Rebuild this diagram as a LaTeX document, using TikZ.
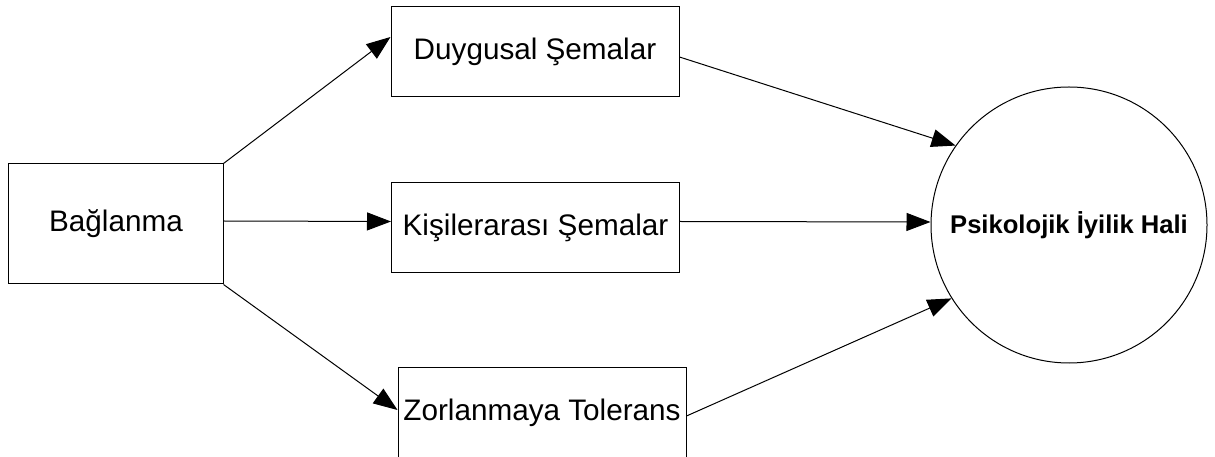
\documentclass[tikz,border=0pt]{standalone}
\usepackage{fontspec}
\setmainfont{Liberation Sans}
\usetikzlibrary{arrows.meta}
\begin{document}
\begin{tikzpicture}[x=1bp,y=-1bp,
  box/.style={draw=black,line width=1bp,rectangle,inner sep=0pt,
    minimum width=288bp,minimum height=90bp,
    font=\fontsize{29.8}{34}\selectfont},
  conn/.style={draw=black,line width=1bp,-{Triangle[length=24bp,width=18bp]}}]
\useasboundingbox[fill=white] (0,0) rectangle (1215,457);
\node[box,minimum width=214bp,minimum height=120bp] (bag) at (116,224) {Bağlanma};
\node[box] (duy) at (535,52) {Duygusal Şemalar};
\node[box] (kis) at (535.5,227.5) {Kişilerarası Şemalar};
\node[box] (zor) at (542,413) {Zorlanmaya Tolerans};
\node[draw=black,line width=1bp,circle,minimum size=276bp,inner sep=0pt,
  font=\fontsize{25.7}{30}\selectfont\bfseries] (circ) at (1069,225) {Psikolojik İyilik Hali};
\draw[conn] (bag.north east) -- ([yshift=15bp]duy.west);
\draw[conn] ([yshift=3bp]bag.east) -- ([yshift=6bp]kis.west);
\draw[conn] (bag.south east) -- ([yshift=3bp]zor.west);
\draw[conn] ([yshift=-5bp]duy.east) -- (circ.145);
\draw[conn] ([yshift=6bp]kis.east) -- ([yshift=3bp]circ.west);
\draw[conn] ([yshift=-3bp]zor.east) -- (circ.212);
\end{tikzpicture}
\end{document}
